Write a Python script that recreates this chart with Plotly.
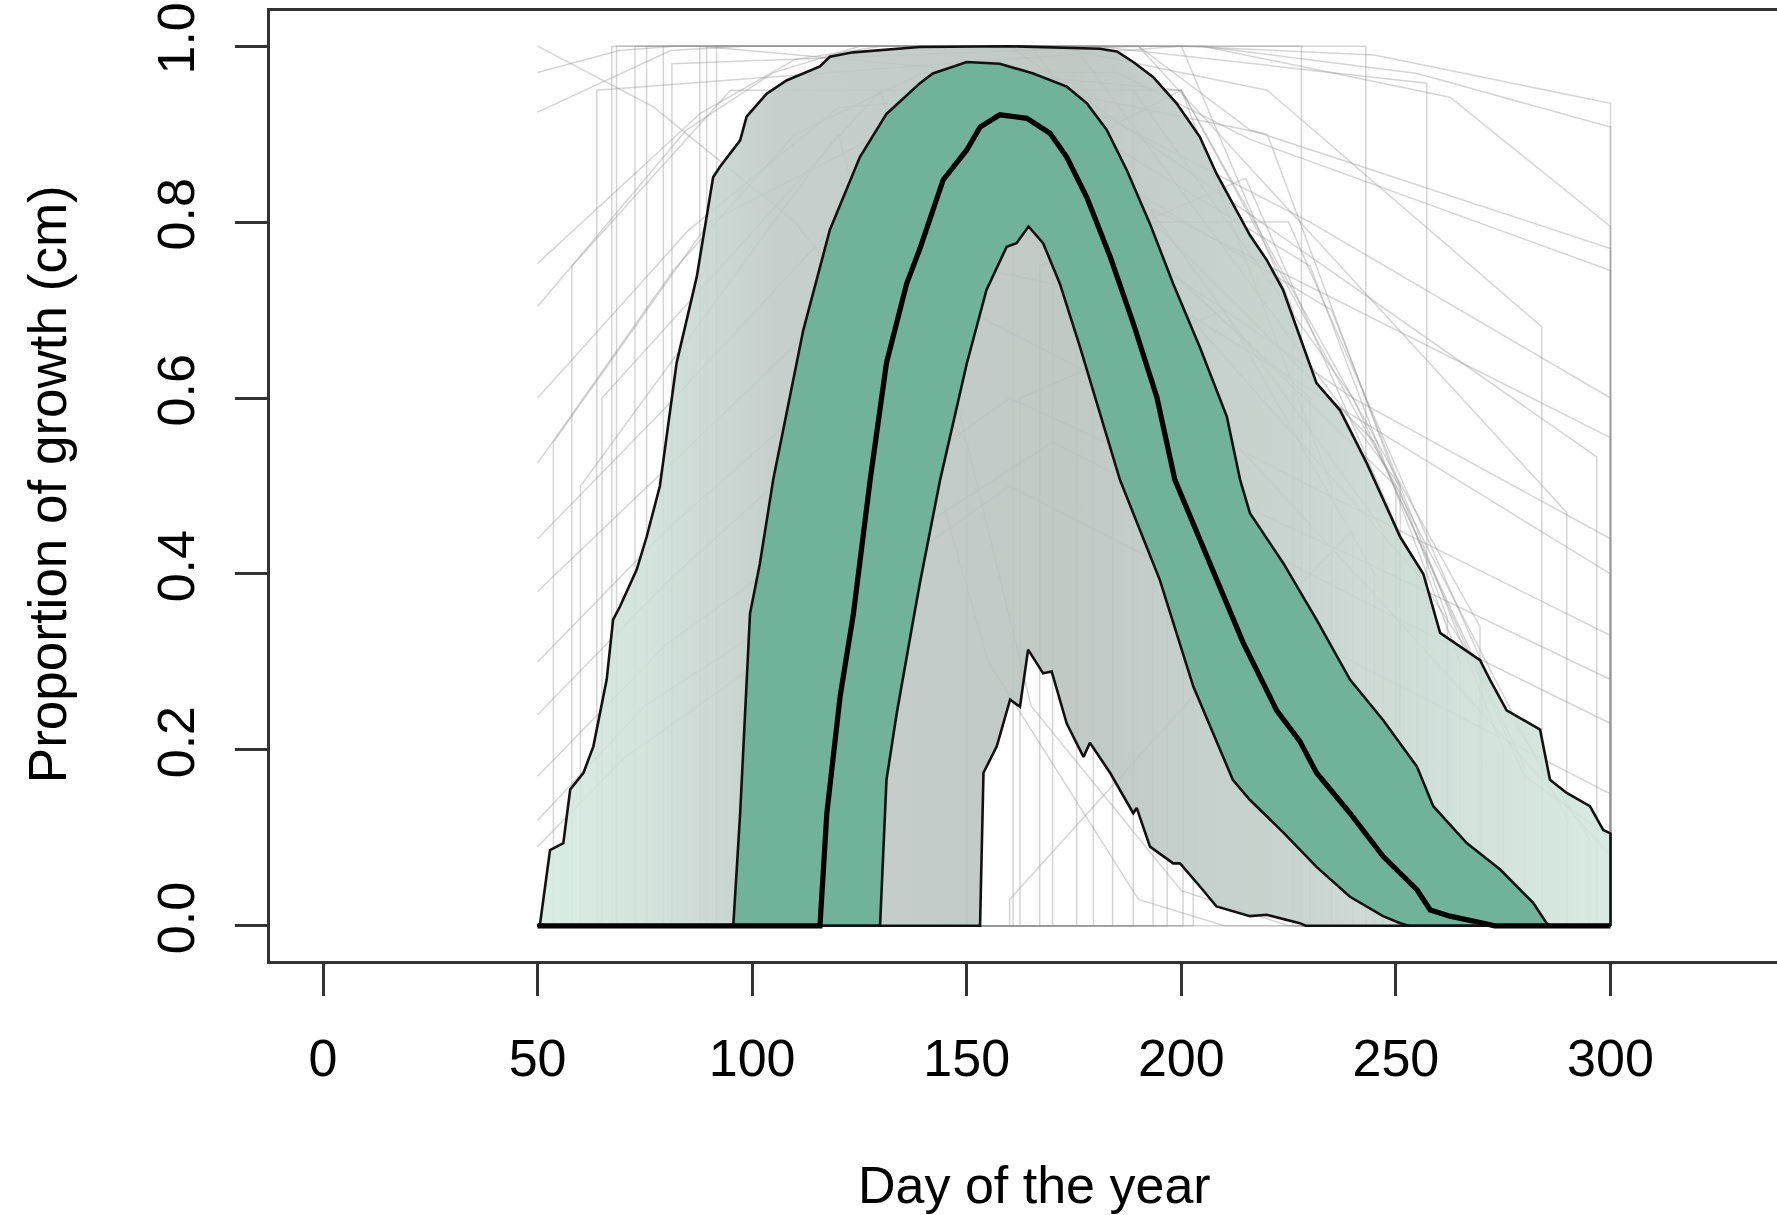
import plotly.graph_objects as go

# ---------------- data ----------------
X_TICKS = [0, 50, 100, 150, 200, 250, 300]
Y_TICKS = [0.0, 0.2, 0.4, 0.6, 0.8, 1.0]
Y_TICK_TEXT = ["0.0", "0.2", "0.4", "0.6", "0.8", "1.0"]

# outer envelope, upper edge
OU_DAYS = [50, 50.6, 52.9, 56, 57.6, 60.7, 63, 66.1, 67.6, 69.2, 73.1, 75.4, 78.5, 82.4, 87.1, 88.2,
           90.9, 92.5, 97.2, 98.7, 103.4, 108, 115.8, 118.1, 123.5, 139, 160, 181, 185, 188.8, 193.4,
           198.9, 204.3, 208.2, 213.7, 216, 219.9, 223.7, 227.6, 231.5, 237, 243.2, 251, 256.4, 260.3,
           269.6, 271.9, 275.8, 283.6, 285.9, 289.8, 295.2, 298.3, 300, 300]
OU_VALS = [0, 0.003, 0.086, 0.094, 0.155, 0.174, 0.204, 0.28, 0.348, 0.363, 0.405, 0.442, 0.50, 0.64,
           0.738, 0.772, 0.851, 0.863, 0.893, 0.92, 0.946, 0.961, 0.977, 0.988, 0.993, 0.999, 1.0, 0.997,
           0.994, 0.982, 0.965, 0.935, 0.897, 0.855, 0.806, 0.785, 0.757, 0.723, 0.670, 0.617, 0.586,
           0.526, 0.442, 0.40, 0.333, 0.302, 0.28, 0.245, 0.223, 0.166, 0.151, 0.136, 0.109, 0.105, 0]

# outer envelope, lower edge
OL_DAYS = [50, 153.1, 153.9, 157, 160.1, 162.4, 164.3, 167.8, 169.8, 173.3, 177.2, 178.7, 183.4, 188.8,
           189.6, 192.7, 198.1, 199.7, 204.3, 208.2, 216, 219.9, 227.6, 229, 300]
OL_VALS = [0, 0, 0.174, 0.204, 0.257, 0.249, 0.314, 0.287, 0.289, 0.23, 0.192, 0.208, 0.174, 0.128,
           0.134, 0.09, 0.071, 0.071, 0.045, 0.022, 0.011, 0.0125, 0.003, 0, 0]

# inner envelope, upper edge
IU_DAYS = [50, 95.6, 97.2, 99.5, 101.8, 104.9, 111.9, 118.1, 125.1, 131.3, 139.1, 142.1, 150, 157.7,
           165.5, 173.3, 178, 182.6, 187.3, 192.7, 198.1, 204.3, 210.6, 213.7, 216, 223.8, 231.5, 239.3,
           247, 254.9, 258.7, 266.5, 274.3, 282, 285.1, 286, 300]
IU_VALS = [0, 0, 0.128, 0.355, 0.412, 0.507, 0.677, 0.791, 0.874, 0.923, 0.958, 0.969, 0.982, 0.980,
           0.969, 0.954, 0.935, 0.905, 0.859, 0.798, 0.730, 0.658, 0.579, 0.507, 0.469, 0.412, 0.348,
           0.28, 0.234, 0.181, 0.136, 0.094, 0.064, 0.026, 0.003, 0, 0]

# inner envelope, lower edge
IL_DAYS = [50, 129.8, 131.3, 133.7, 137.8, 139.1, 143.8, 150, 154.6, 159.3, 161.6, 164.4, 167.8, 171.7,
           176.4, 181, 185.7, 195, 202.8, 212, 216, 223.8, 231.5, 239.3, 247, 251, 253, 300]
IL_VALS = [0, 0, 0.166, 0.242, 0.355, 0.39, 0.507, 0.639, 0.723, 0.772, 0.776, 0.795, 0.776, 0.730,
           0.658, 0.583, 0.507, 0.393, 0.272, 0.166, 0.143, 0.106, 0.067, 0.033, 0.011, 0.003, 0, 0]

# median
MD_DAYS = [50, 115.8, 117.4, 120.5, 123.6, 127.5, 131.3, 136, 139.1, 144.5, 150, 153.1, 157.7, 160, 164,
           169.4, 173.3, 178, 183.4, 188.8, 194.3, 198.5, 206.7, 214.4, 222.2, 227.6, 231.5, 239.3, 247,
           254.9, 258, 262.6, 270.4, 273, 300]
MD_VALS = [0, 0, 0.128, 0.261, 0.355, 0.507, 0.640, 0.73, 0.77, 0.848, 0.882, 0.908, 0.922, 0.92, 0.918,
           0.901, 0.874, 0.828, 0.761, 0.685, 0.601, 0.507, 0.412, 0.322, 0.245, 0.21, 0.174, 0.128, 0.079,
           0.041, 0.018, 0.011, 0.003, 0, 0]

# individual growth curves (vertices)
GRAY_DAYS = [
    [50, 69, 82, 200, 245, 300, 300],
    [50, 81, 98, 205, 255, 300, 300],
    [50, 77, 110, 150, 150, 300],
    [50, 88, 110, 130, 205, 262.6, 300, 300],
    [50, 84.7, 105, 125, 190, 216, 300, 300],
    [50, 81.6, 110, 140, 185, 216, 300, 300],
    [50, 85, 120, 170, 230, 300, 300],
    [50, 80, 120, 160, 200, 300, 300],
    [50, 80, 140, 180, 240, 300, 300],
    [50, 80, 150, 200, 300, 300],
    [50, 80, 150, 230, 300, 300],
    [50, 80, 160, 240, 300, 300],
    [50, 75, 170, 250, 300, 300],
    [50, 70, 160, 260, 300, 300],
    [50, 67.3, 67.3, 228, 228, 300],
    [50, 68.4, 68.4, 243, 243, 300],
    [50, 72.7, 72.7, 180, 257.2, 257.2, 300],
    [50, 75.4, 75.4, 170, 220, 284, 284, 300],
    [50, 79.3, 79.3, 160, 296.8, 296.8, 300],
    [50, 81.3, 81.3, 190, 289.8, 289.8, 300],
    [50, 87.8, 87.8, 200, 269.6, 269.6, 300],
    [50, 89.4, 89.4, 175, 251, 251, 300],
    [50, 91.7, 91.7, 165, 247, 247, 300],
    [50, 53.7, 53.7, 90, 150, 230, 230, 300],
    [50, 58, 58, 95, 200, 235, 235, 300],
    [50, 63.8, 63.8, 200, 226, 226, 300],
    [50, 60, 60, 120, 155, 190, 210, 300],
    [50, 65, 65, 130, 165, 200, 225, 300],
    [50, 160, 160, 210, 240, 240, 300],
    [50, 160.8, 160.8, 200, 250, 250, 300],
    [50, 162.4, 162.4, 210, 245, 245, 300],
    [50, 167, 167, 215, 255, 255, 300],
    [50, 170, 170, 220, 262, 262, 300],
    [50, 175.6, 175.6, 225, 270, 270, 300],
    [50, 179.5, 179.5, 230, 265, 265, 300],
    [50, 184, 184, 235, 275, 275, 300],
    [50, 188.8, 188.8, 240, 280, 280, 300],
    [50, 193.4, 193.4, 245, 280, 300, 300],
    [50, 196.7, 196.7, 250, 290, 290, 300],
    [50, 200.4, 200.4, 255, 295, 295, 300],
    [50, 202.8, 202.8, 250, 300, 300],
]
GRAY_VALS = [
    [0.97, 0.995, 1.0, 1.0, 0.99, 0.935, 0],
    [0.925, 0.995, 1.0, 1.0, 0.969, 0.908, 0],
    [1.0, 0.931, 0.80, 0.55, 0, 0],
    [0.753, 0.924, 0.985, 1.0, 1.0, 0.942, 0.795, 0],
    [0.704, 0.905, 0.97, 1.0, 1.0, 0.905, 0.77, 0],
    [0.526, 0.745, 0.9, 0.97, 0.97, 0.894, 0.745, 0],
    [0.60, 0.79, 0.93, 0.95, 0.80, 0.60, 0],
    [0.44, 0.59, 0.80, 0.88, 0.80, 0.555, 0],
    [0.38, 0.52, 0.80, 0.80, 0.60, 0.44, 0],
    [0.30, 0.45, 0.75, 0.70, 0.40, 0],
    [0.24, 0.39, 0.70, 0.50, 0.33, 0],
    [0.17, 0.32, 0.60, 0.42, 0.28, 0],
    [0.12, 0.25, 0.55, 0.35, 0.23, 0],
    [0.09, 0.19, 0.50, 0.25, 0.15, 0],
    [0, 0, 1.0, 1.0, 0, 0],
    [0, 0, 1.0, 1.0, 0, 0],
    [0, 0, 1.0, 1.0, 0.958, 0, 0],
    [0, 0, 1.0, 1.0, 0.95, 0.681, 0, 0],
    [0, 0, 1.0, 1.0, 0.533, 0, 0],
    [0, 0, 0.98, 1.0, 0.47, 0, 0],
    [0, 0, 1.0, 0.95, 0.34, 0, 0],
    [0, 0, 1.0, 1.0, 0.50, 0, 0],
    [0, 0, 1.0, 1.0, 0.45, 0, 0],
    [0, 0, 0.55, 0.80, 0.95, 0.6, 0, 0],
    [0, 0, 0.75, 0.95, 0.95, 0.5, 0, 0],
    [0, 0, 0.95, 1.0, 0.7, 0, 0],
    [0, 0, 0.5, 0.9, 0.3, 0.03, 0, 0],
    [0, 0, 0.6, 0.95, 0.25, 0.04, 0, 0],
    [0, 0, 0.03, 0.3, 0.45, 0, 0],
    [0, 0, 0.85, 0.95, 0.5, 0, 0],
    [0, 0, 0.6, 0.7, 0.4, 0, 0],
    [0, 0, 0.75, 0.85, 0.4, 0, 0],
    [0, 0, 0.95, 0.9, 0.35, 0, 0],
    [0, 0, 0.8, 0.8, 0.3, 0, 0],
    [0, 0, 0.9, 0.75, 0.3, 0, 0],
    [0, 0, 0.85, 0.7, 0.2, 0, 0],
    [0, 0, 0.95, 0.6, 0.18, 0, 0],
    [0, 0, 0.8, 0.55, 0.17, 0.1, 0],
    [0, 0, 0.75, 0.5, 0.12, 0, 0],
    [0, 0, 0.7, 0.4, 0.1, 0, 0],
    [0, 0, 0.6, 0.35, 0.08, 0],
]

X_TITLE = "Day of the year"
Y_TITLE = "Proportion of growth (cm)"

# ---------------- figure ----------------
FONT = "Liberation Sans, Arial, Helvetica, sans-serif"
fig = go.Figure()

gx, gy = [], []
for d, v in zip(GRAY_DAYS, GRAY_VALS):
    gx += list(d) + [None]
    gy += list(v) + [None]
fig.add_trace(go.Scatter(x=gx, y=gy, mode="lines",
                         line=dict(color="rgba(150,150,150,0.40)", width=1.5),
                         hoverinfo="skip", showlegend=False))

# outer band
fig.add_trace(go.Scatter(
    x=OU_DAYS + OL_DAYS[::-1], y=OU_VALS + OL_VALS[::-1],
    mode="lines", fill="toself",
    line=dict(width=0, color="rgba(0,0,0,0)"),
    fillgradient=dict(type="horizontal", colorscale=[
        [0.0, "rgba(214,236,227,0.9)"],
        [0.10, "rgba(206,224,217,0.9)"],
        [0.22, "rgba(192,202,198,0.9)"],
        [0.50, "rgba(186,195,191,0.9)"],
        [0.72, "rgba(196,209,204,0.9)"],
        [0.86, "rgba(205,222,215,0.9)"],
        [1.0, "rgba(212,232,224,0.9)"],
    ]),
    hoverinfo="skip", showlegend=False))

# inner band
fig.add_trace(go.Scatter(
    x=IU_DAYS + IL_DAYS[::-1], y=IU_VALS + IL_VALS[::-1],
    mode="lines", fill="toself", fillcolor="#71b29b",
    line=dict(width=0, color="rgba(0,0,0,0)"),
    hoverinfo="skip", showlegend=False))

for d, v in [(OU_DAYS, OU_VALS), (OL_DAYS, OL_VALS), (IU_DAYS, IU_VALS), (IL_DAYS, IL_VALS)]:
    fig.add_trace(go.Scatter(x=d, y=v, mode="lines", line=dict(color="#111111", width=2.6),
                             hoverinfo="skip", showlegend=False))
fig.add_trace(go.Scatter(x=MD_DAYS, y=MD_VALS, mode="lines", line=dict(color="#000000", width=5.2),
                         hoverinfo="skip", showlegend=False))

fig.update_layout(
    width=1777, height=1215,
    margin=dict(l=270, r=0, t=11, b=254),
    paper_bgcolor="white", plot_bgcolor="white",
    font=dict(family=FONT, size=52, color="#000000"),
    showlegend=False,
    xaxis=dict(range=[-12.35, 338.8], tickvals=X_TICKS, ticktext=[str(t) for t in X_TICKS],
               ticks="outside", ticklen=32, tickwidth=2.5, tickcolor="#333333",
               showline=True, linecolor="#333333", linewidth=3, mirror=True,
               showgrid=False, zeroline=False, tickfont=dict(size=52),
               ticklabelstandoff=18, ticklabeloverflow="allow", automargin=False),
    yaxis=dict(range=[-0.04, 1.04], tickvals=Y_TICKS, ticktext=Y_TICK_TEXT, tickangle=-90,
               ticks="outside", ticklen=32, tickwidth=2.5, tickcolor="#333333",
               showline=True, linecolor="#333333", linewidth=3, mirror=False,
               showgrid=False, zeroline=False, tickfont=dict(size=52),
               ticklabelstandoff=20, ticklabeloverflow="allow", automargin=False),
    annotations=[
        dict(text=X_TITLE, xref="paper", yref="paper", x=0.507, y=-0.236,
             xanchor="center", yanchor="middle", showarrow=False, font=dict(size=52)),
        dict(text=Y_TITLE, xref="paper", yref="paper", x=-0.1475, y=0.5016, textangle=-90,
             xanchor="center", yanchor="middle", showarrow=False, font=dict(size=53)),
    ],
)

fig.write_html("out.html", config={"displayModeBar": False},
               post_script="document.body.style.margin='0';document.body.style.overflow='hidden';")
